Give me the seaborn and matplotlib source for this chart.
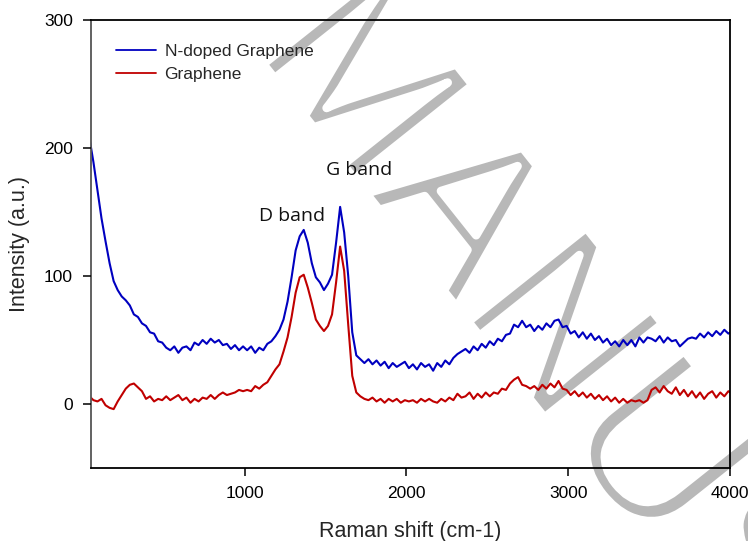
import numpy as np
import pandas as pd
import matplotlib
matplotlib.use("Agg")
import matplotlib.pyplot as plt
import matplotlib.patheffects as pe
import seaborn as sns

# Raman shift sample positions (cm-1), one every 25 cm-1
raman_shift = np.arange(40, 4016, 25)

n_doped = [
    208, 189, 167, 145, 127, 110, 96, 89, 84, 81,
    77, 70, 68, 63, 61, 56, 55, 49, 48, 44,
    42, 45, 40, 44, 45, 42, 48, 46, 50, 47,
    51, 48, 50, 46, 47, 43, 46, 42, 45, 42,
    45, 40, 44, 42, 47, 49, 53, 58, 66, 80,
    99, 120, 131, 136, 126, 110, 99, 95, 89, 94,
    101, 126, 154, 134, 100, 56, 38, 35, 32, 35,
    31, 34, 30, 33, 28, 32, 29, 31, 33, 28,
    31, 27, 32, 29, 31, 26, 32, 29, 34, 31,
    36, 39, 41, 43, 40, 45, 42, 47, 44, 49,
    46, 51, 49, 54, 55, 62, 60, 65, 60, 62,
    57, 61, 58, 63, 60, 65, 66, 60, 61, 55,
    57, 52, 56, 51, 55, 50, 53, 48, 51, 46,
    49, 45, 50, 46, 50, 45, 52, 48, 52, 51,
    49, 53, 48, 52, 49, 50, 45, 48, 51, 52,
    51, 55, 52, 56, 53, 57, 54, 58, 55, 57,
]

graphene = [
    6, 3, 2, 4, -1, -3, -4, 2, 7, 12,
    15, 16, 13, 10, 4, 6, 2, 4, 3, 6,
    3, 5, 7, 3, 5, 1, 4, 2, 5, 4,
    7, 4, 7, 9, 7, 8, 9, 11, 10, 11,
    10, 14, 12, 15, 17, 22, 27, 31, 41, 52,
    68, 87, 99, 101, 91, 79, 66, 61, 57, 61,
    70, 95, 123, 104, 62, 22, 9, 6, 4, 3,
    5, 2, 4, 1, 4, 2, 4, 1, 3, 2,
    3, 1, 4, 2, 4, 2, 1, 4, 2, 5,
    3, 8, 5, 6, 9, 4, 8, 5, 9, 6,
    9, 8, 12, 11, 16, 19, 21, 15, 14, 12,
    14, 11, 15, 12, 16, 13, 18, 12, 11, 7,
    10, 6, 9, 5, 8, 4, 7, 3, 6, 2,
    5, 1, 4, 1, 3, 2, 3, 1, 3, 11,
    13, 9, 14, 10, 8, 13, 7, 11, 6, 10,
    5, 9, 4, 8, 10, 5, 9, 6, 10, 8,
]

series_names = ["N-doped Graphene", "Graphene"]
series_colors = ["#0000c0", "#c00000"]
x_ticks = [1000, 2000, 3000, 4000]
y_ticks = [0, 100, 200, 300]
band_labels = ["D band", "G band"]
band_pos_x = [1290, 1710]
band_pos_y = [147, 183]

df = pd.concat([
    pd.DataFrame({"shift": raman_shift, "intensity": n_doped, "sample": series_names[0]}),
    pd.DataFrame({"shift": raman_shift, "intensity": graphene, "sample": series_names[1]}),
])

sns.set_style("ticks")
plt.rcParams["font.family"] = ["Liberation Sans", "DejaVu Sans"]

fig = plt.figure(figsize=(7.48, 5.41), dpi=100)
ax = fig.add_axes([91 / 748, 1 - 468 / 541, (730 - 91) / 748, (468 - 20) / 541])
ax.set_axisbelow(False)

sns.lineplot(data=df, x="shift", y="intensity", hue="sample",
             palette=dict(zip(series_names, series_colors)),
             linewidth=1.5, ax=ax, sort=False, estimator=None)

ax.set_xlim(50, 4000)
ax.set_ylim(-50, 300)
ax.set_xticks(x_ticks)
ax.set_yticks(y_ticks)
ax.tick_params(axis="both", direction="out", length=6, width=1.1,
               labelsize=12.5, colors="black")
ax.tick_params(axis="y", pad=7)
ax.tick_params(axis="x", pad=7)
for s in ax.spines.values():
    s.set_visible(True)
    s.set_linewidth(1.3)
    s.set_color("black")
ax.spines["left"].set_color("#555555")

ax.set_xlabel("Raman shift (cm-1)", fontsize=15.5, labelpad=14)
ax.set_ylabel("Intensity (a.u.)", fontsize=15.5, labelpad=10)

for lab, bx, by in zip(band_labels, band_pos_x, band_pos_y):
    ax.text(bx, by, lab, fontsize=14, family="Open Sans",
            ha="center", va="center", color="#111111", zorder=3)

leg = ax.legend(loc="upper left", bbox_to_anchor=(116 / 748, 1 - 44 / 541),
                bbox_transform=fig.transFigure, frameon=False, fontsize=12.5,
                handlelength=2.3, handletextpad=0.5, labelspacing=0.42,
                borderpad=0, borderaxespad=0, title=None)
for h in leg.get_lines():
    h.set_linewidth(1.3)

# watermark (drawn above the axes background, below the data lines)
ax.text(252 / 748, 1 - 50 / 541, "MANUSCRIPT", fontsize=158,
        family="Liberation Sans", color="#b8b8b8",
        rotation=-51.5, rotation_mode="anchor", ha="left", va="baseline",
        transform=fig.transFigure, clip_on=False, zorder=1.2,
        path_effects=[pe.Normal(),
                      pe.Stroke(linewidth=6.2, foreground="white")])

fig.savefig("out.png", dpi=100)
